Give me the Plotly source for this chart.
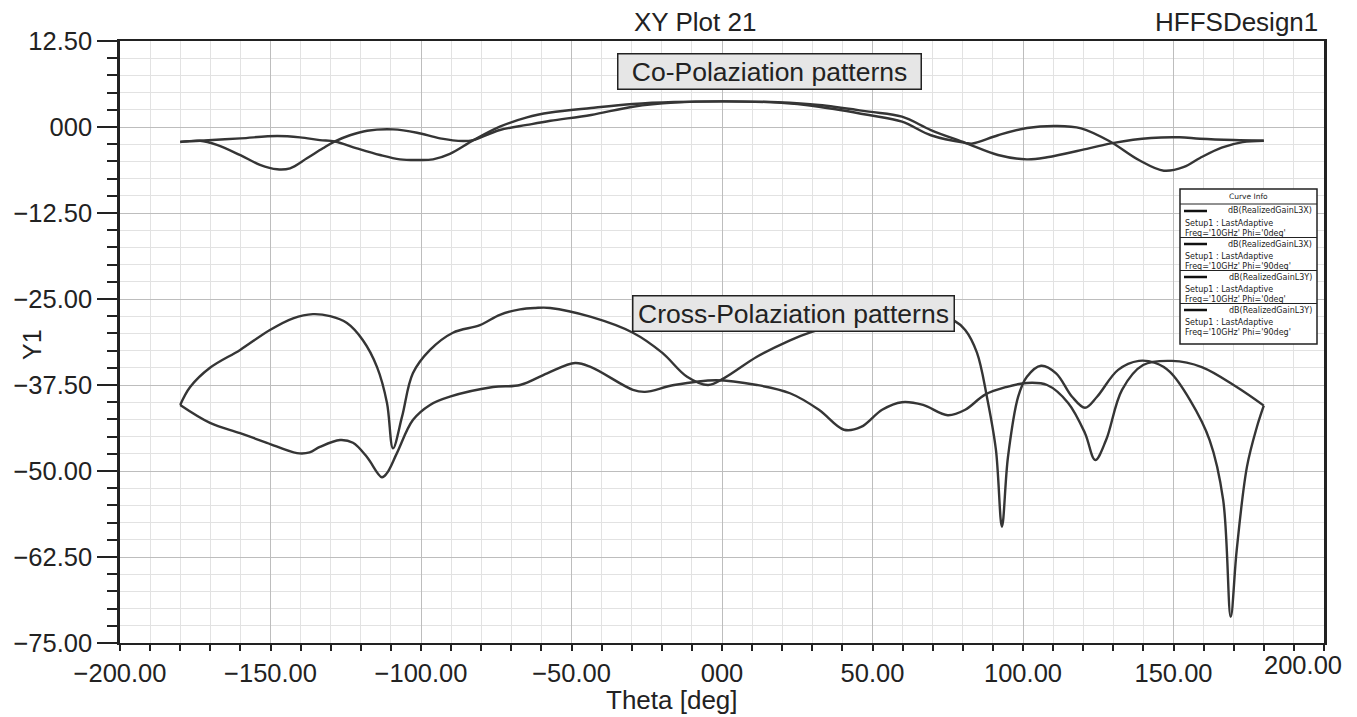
import plotly.graph_objects as go

# ---------------- data ----------------
theta_A = [-180, -173.4, -167.8, -160, -153.5, -147.8, -143.5, -137.9, -132.6, -128.6, -123.6, -117.9,
           -109.3, -101.3, -93.7, -86, -82.7, -73.8, -64.8, -57, -43.5, -29.6, -15.9, 0, 18.6, 32.2,
           48.8, 59.8, 69.4, 80.8, 83.3, 91.7, 101.3, 111, 119.3, 128.9, 138.5, 146.8, 153.5, 158.8,
           166, 173, 180]
gain_A = [-2.2, -2.0, -2.6, -4.1, -5.5, -6.15, -6.0, -4.55, -3.1, -2.1, -1.2, -0.54,
          -0.34, -0.83, -1.65, -2.03, -1.9, -0.44, 0.3, 0.9, 1.75, 2.95, 3.55, 3.72, 3.55, 2.95,
          1.74, 0.77, -1.2, -2.3, -2.4, -1.2, -0.15, 0.15, -0.19, -2.1, -4.8, -6.35, -5.8, -4.5,
          -3.0, -2.2, -2.0]

theta_B = [-180, -173.4, -160, -147.8, -140.2, -133.6, -128.6, -121.3, -113.6, -107, -101, -96,
           -90.4, -82.7, -73.8, -64.8, -57, -43.5, -29.6, -15.9, 0.7, 18.6, 32.2, 48.8, 59.8, 69.4,
           80.8, 91.7, 101.3, 108, 121.9, 130.2, 142.5, 152, 158.8, 170, 180]
gain_B = [-2.13, -2.0, -1.65, -1.3, -1.5, -1.9, -2.1, -3.1, -4.07, -4.7, -4.8, -4.7,
          -3.9, -1.95, 0.05, 1.4, 2.1, 2.76, 3.34, 3.63, 3.73, 3.59, 3.2, 2.23, 1.5, -0.44,
          -2.3, -4.07, -4.7, -4.4, -3.1, -2.3, -1.6, -1.5, -1.7, -1.9, -2.0]

theta_C = [-180, -176.7, -170.1, -160.1, -150.2, -142.5, -135.9, -130.2, -124.6, -119.3, -114.6,
           -111.3, -109.3, -106.3, -102.7, -97, -89.4, -80.4, -73.8, -67.1, -62, -57.1, -43.5,
           -29.6, -19.9, -11.6, -4.6, 0.7, 11.6, 22.6, 29.6, 40, 55, 65, 72, 77, 80.8, 84.7, 88,
           91, 93, 95, 98.4, 101.3, 106, 111, 116.3, 120.6, 124.6, 131.6, 138.5, 143.9, 148.8,
           155.5, 162, 166.5, 169, 171, 174.4, 177.7, 180]
gain_C = [-40.4, -37.8, -35.0, -32.4, -29.5, -27.8, -27.2, -27.5, -28.5, -31.0, -34.9,
          -40.1, -46.7, -42.1, -35.8, -32.4, -29.9, -28.8, -27.3, -26.5, -26.3, -26.3, -27.6,
          -29.9, -32.8, -36.3, -37.5, -36.5, -33.4, -31.0, -29.8, -28.6, -27.6, -27.3, -27.4,
          -28.1, -29.5, -32.8, -39.2, -46.9, -58.1, -48.0, -39.2, -36.3, -34.7, -35.8, -39.2,
          -40.8, -39.2, -35.3, -34.0, -34.3, -35.6, -39.7, -45.5, -54.2, -71.2, -61.5, -49.4,
          -43.6, -40.5]

theta_D = [-180, -170.1, -160.1, -151.2, -141.2, -137, -133.6, -126.9, -122.6, -117.9, -113,
           -111.3, -108, -102.7, -97, -90.4, -76.1, -67.1, -58.1, -48.8, -43.5, -29.6, -25.6,
           -15.9, -2, 11.6, 22.6, 32.2, 40.5, 46.2, 53.2, 59.8, 66.8, 75, 80.8, 87.4, 94.4,
           101.3, 108, 115, 120.6, 124, 127.6, 132.9, 139.9, 149.5, 159.4, 171, 180]
gain_D = [-40.4, -43.0, -44.5, -45.9, -47.4, -47.3, -46.5, -45.5, -45.9, -48.0, -50.9,
          -50.3, -47.4, -42.6, -40.4, -39.2, -37.8, -37.5, -35.8, -34.3, -34.9, -38.2, -38.5,
          -37.5, -36.8, -37.5, -38.7, -41.1, -44.0, -43.6, -41.1, -40.0, -40.4, -41.9, -41.1,
          -38.9, -37.8, -37.2, -37.5, -40.1, -44.5, -48.4, -45.5, -38.2, -34.6, -34.0, -34.9,
          -37.8, -40.5]

curve_quantity = ["dB(RealizedGainL3X)", "dB(RealizedGainL3X)", "dB(RealizedGainL3Y)", "dB(RealizedGainL3Y)"]
curve_setup = ["Setup1 : LastAdaptive"] * 4
curve_freq = ["Freq='10GHz' Phi='0deg'", "Freq='10GHz' Phi='90deg'",
              "Freq='10GHz' Phi='0deg'", "Freq='10GHz' Phi='90deg'"]

x_tickvals = [-200, -150, -100, -50, 0, 50, 100, 150, 200]
x_ticktext = ["\u2212200.00", "\u2212150.00", "\u2212100.00", "\u221250.00", "000",
              "50.00", "100.00", "150.00", ""]
x_last_label = "200.00"
y_tickvals = [12.5, 0, -12.5, -25, -37.5, -50, -62.5, -75]
y_ticktext = ["12.50", "000", "\u221212.50", "\u221225.00", "\u221237.50", "\u221250.00",
              "\u221262.50", "\u221275.00"]

# ---------------- figure ----------------
W, H = 1357, 717
L, R, T, B = 120, 33, 41, 74
FONT = "Liberation Sans, Arial, sans-serif"
SMALL_FONT = "DejaVu Sans, sans-serif"
TXT = "#222222"
LINE = "#353535"

def px2paper_x(px):
    return (px - L) / (W - L - R)

def py2paper_y(py):
    return (H - B - py) / (H - T - B)

fig = go.Figure()
for xs, ys, q, f in [(theta_A, gain_A, curve_quantity[0], curve_freq[0]),
                     (theta_B, gain_B, curve_quantity[1], curve_freq[1]),
                     (theta_C, gain_C, curve_quantity[2], curve_freq[2]),
                     (theta_D, gain_D, curve_quantity[3], curve_freq[3])]:
    fig.add_trace(go.Scatter(x=xs, y=ys, mode="lines", name=f"{q} {f}", showlegend=False,
                             line=dict(color=LINE, width=2.4, shape="spline", smoothing=1.0)))

fig.update_layout(
    width=W, height=H,
    margin=dict(l=L, r=R, t=T, b=B),
    paper_bgcolor="white", plot_bgcolor="white",
    font=dict(family=FONT, size=25, color=TXT),
    showlegend=False,
    xaxis=dict(
        range=[-200, 200], tickmode="array", tickvals=x_tickvals, ticktext=x_ticktext,
        showline=True, linecolor=TXT, linewidth=2, mirror=True,
        ticks="outside", ticklen=6, tickwidth=2, tickcolor=TXT,
        showgrid=True, gridcolor="#bdbdbd", gridwidth=1, zeroline=False,
        tickfont=dict(size=25.5),
        minor=dict(tickmode="linear", tick0=-200, dtick=10, showgrid=True,
                   gridcolor="#e2e2e2", gridwidth=1, ticks="outside", ticklen=6,
                   tickwidth=2, tickcolor=TXT),
    ),
    yaxis=dict(
        range=[-75, 12.5], tickmode="array", tickvals=y_tickvals, ticktext=y_ticktext,
        showline=True, linecolor=TXT, linewidth=2.5, mirror=True,
        ticks="outside", ticklen=20, tickwidth=2, tickcolor=TXT,
        showgrid=True, gridcolor="#bdbdbd", gridwidth=1, zeroline=False,
        tickfont=dict(size=25.5),
        minor=dict(tickmode="linear", tick0=-75, dtick=2.5, showgrid=True,
                   gridcolor="#e2e2e2", gridwidth=1, ticks="outside", ticklen=10,
                   tickwidth=2, tickcolor=TXT),
    ),
)

annotations = [
    dict(text="XY Plot 21", xref="paper", yref="paper", x=px2paper_x(695), y=py2paper_y(22),
         xanchor="center", yanchor="middle", showarrow=False, font=dict(size=26)),
    dict(text="HFFSDesign1", xref="paper", yref="paper", x=px2paper_x(1320), y=py2paper_y(22),
         xanchor="right", yanchor="middle", showarrow=False, font=dict(size=26)),
    dict(text=x_last_label, xref="paper", yref="paper", x=px2paper_x(1303), y=py2paper_y(665),
         xanchor="center", yanchor="middle", showarrow=False, font=dict(size=25.5)),
    dict(text="Theta [deg]", xref="paper", yref="paper", x=px2paper_x(672), y=py2paper_y(700),
         xanchor="center", yanchor="middle", showarrow=False, font=dict(size=26)),
    dict(text="Y1", xref="paper", yref="paper", x=px2paper_x(32), y=py2paper_y(344),
         xanchor="center", yanchor="middle", showarrow=False, textangle=-90, font=dict(size=25)),
    dict(text="Co-Polaziation patterns", xref="paper", yref="paper",
         x=px2paper_x(769.5), y=py2paper_y(71.5), xanchor="center", yanchor="middle",
         showarrow=False, font=dict(size=26.5), bgcolor="#e6e6e6", bordercolor=TXT,
         borderwidth=1.5, borderpad=0, width=302, height=34),
    dict(text="Cross-Polaziation patterns", xref="paper", yref="paper",
         x=px2paper_x(793.5), y=py2paper_y(313.5), xanchor="center", yanchor="middle",
         showarrow=False, font=dict(size=26.5), bgcolor="#e6e6e6", bordercolor=TXT,
         borderwidth=1.5, borderpad=0, width=320, height=34),
]

# ---- "Curve Info" box, drawn like the HFSS legend ----
LG_L, LG_R, LG_T, LG_B = 1180, 1317, 189, 344
shapes = [dict(type="rect", xref="paper", yref="paper",
               x0=px2paper_x(LG_L), x1=px2paper_x(LG_R), y0=py2paper_y(LG_B), y1=py2paper_y(LG_T),
               line=dict(color=TXT, width=1.5), fillcolor="white", layer="above")]
annotations.append(dict(text="Curve Info", xref="paper", yref="paper",
                        x=px2paper_x((LG_L + LG_R) / 2), y=py2paper_y(196.5),
                        xanchor="center", yanchor="middle", showarrow=False,
                        font=dict(family=SMALL_FONT, size=7.5, color=TXT)))
shapes.append(dict(type="line", xref="paper", yref="paper",
                   x0=px2paper_x(LG_L), x1=px2paper_x(LG_R), y0=py2paper_y(204), y1=py2paper_y(204),
                   line=dict(color=TXT, width=1), layer="above"))
for k in range(4):
    top = 211 + 33 * k
    if k > 0:
        sep = top - 6.5
        shapes.append(dict(type="line", xref="paper", yref="paper",
                           x0=px2paper_x(LG_L), x1=px2paper_x(LG_R),
                           y0=py2paper_y(sep), y1=py2paper_y(sep),
                           line=dict(color=TXT, width=1), layer="above"))
    shapes.append(dict(type="line", xref="paper", yref="paper",
                       x0=px2paper_x(1184), x1=px2paper_x(1207),
                       y0=py2paper_y(top), y1=py2paper_y(top),
                       line=dict(color="#111111", width=2.5), layer="above"))
    annotations.append(dict(text=curve_quantity[k], xref="paper", yref="paper",
                            x=px2paper_x(1314), y=py2paper_y(top), xanchor="right", yanchor="middle",
                            showarrow=False, font=dict(family=SMALL_FONT, size=8, color=TXT)))
    annotations.append(dict(text=curve_setup[k] + "<br>" + curve_freq[k], xref="paper", yref="paper",
                            x=px2paper_x(1183), y=py2paper_y(top + 5.5), xanchor="left",
                            yanchor="top", align="left", showarrow=False,
                            font=dict(family=SMALL_FONT, size=8, color=TXT)))

fig.update_layout(annotations=annotations, shapes=shapes)

fig.write_html("out.html")
